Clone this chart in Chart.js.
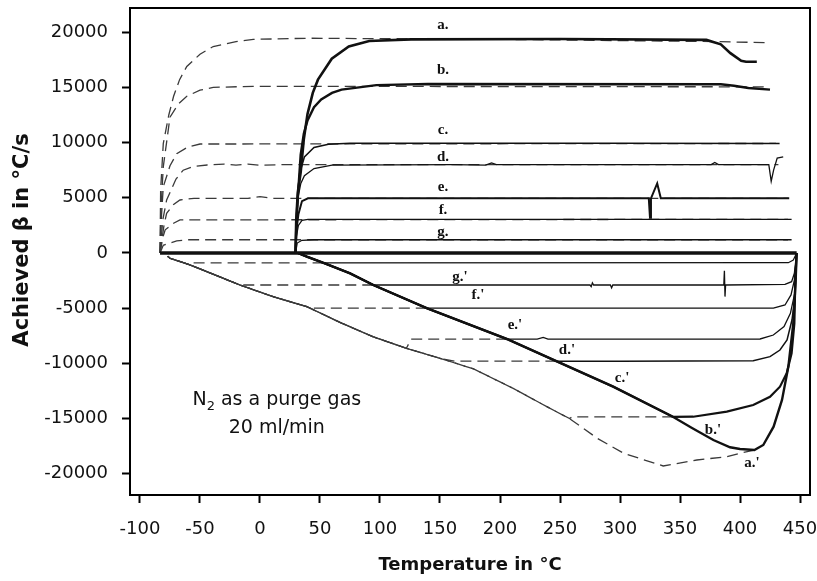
<!DOCTYPE html>
<html>
<head>
<meta charset="utf-8">
<title>Achieved heating and cooling rates</title>
<script src="https://cdn.jsdelivr.net/npm/chart.js@4.4.1/dist/chart.umd.min.js"></script>
<style>
  html, body { margin: 0; padding: 0; background: #fff; }
  #wrap { width: 817px; height: 581px; }
</style>
</head>
<body>
<div id="wrap"><canvas id="betaChart" width="817" height="581"></canvas></div>
<script>
// axis ticks: temperature in °C, rate in °C/s
const tempTicks = [-100, -50, 0, 50, 100, 150, 200, 250, 300, 350, 400, 450];
const rateTicks = [-20000, -15000, -10000, -5000, 0, 5000, 10000, 15000, 20000];

// heating runs from 30 °C, points are [T, beta]
const heatA = [[29.6,0],[30.2,3000],[31.5,5500],[33.9,7300],[36.5,10300],[39.6,12600],[44,14500],[48.3,15700],[59.8,17600],[74,18700],[91,19200],[126,19350],[250,19380],[372,19300],[384,18900],[392,18100],[401,17400],[405,17320],[414,17320]];
const heatB = [[29.6,0],[30.3,2500],[31,4200],[33.9,8900],[36.5,10800],[39.6,12000],[45,13200],[51,13900],[60,14500],[68,14800],[97,15200],[140,15300],[384,15280],[395,15150],[407,14950],[425,14800]];
const heatC = [[29.6,0],[30.5,3500],[31.5,5500],[33,7200],[37,8700],[45,9550],[57,9850],[75,9950],[300,9950],[433,9920]];
const heatD = [[29.6,0],[30.5,3000],[32,5200],[34,6300],[37,7000],[45,7650],[60,7950],[160,8000],[188,7950],[193,8150],[197,8000],[376,8000],[379,8200],[382,8000],[424,8000],[426,6500],[428,7500],[431,8600],[436,8700]];
const heatE = [[29.6,0],[30.3,2000],[32,3500],[35,4700],[40,4950],[324,4950],[325,3200],[325.8,4950],[331,6300],[334,4950],[441,4950]];
const heatF = [[29.6,0],[30.3,1500],[32,2500],[35,2950],[40,3050],[443,3050]];
const heatG = [[29.6,0],[31,900],[35,1150],[45,1200],[443,1200]];

// heating runs from -83 °C (dashed)
const dashHeatA = [[-83.3,0],[-82.8,5700],[-80.6,9900],[-76,12500],[-72,14200],[-67,15700],[-61,16900],[-50,18000],[-39,18700],[-20,19150],[-5.6,19350],[40,19450],[200,19350],[380,19150],[421,19050]];
const dashHeatB = [[-83.3,0],[-82.5,4000],[-80.6,7800],[-75,12300],[-68,13500],[-61,14200],[-50,14750],[-39,15000],[-5.6,15100],[420,15050]];
const dashHeatC = [[-83.3,0],[-82,3500],[-80.6,6000],[-75,7900],[-69.4,9000],[-60,9600],[-50,9870],[430,9920]];
const dashHeatD = [[-83.3,0],[-81,3000],[-77.8,4800],[-70,6700],[-64,7500],[-55,7850],[-44,7970],[-30,8050],[-20,7950],[-10,8050],[0,7950],[20,8000],[432,8000]];
const dashHeatE = [[-83.3,0],[-80,2500],[-77.8,3600],[-72,4400],[-66.7,4800],[-55,4950],[-10,4950],[0,5100],[10,4950],[440,4950]];
const dashHeatF = [[-83.3,0],[-81,1400],[-79,2100],[-72,2700],[-66.7,3000],[440,3050]];
const dashHeatG = [[-83.3,0],[-80.6,700],[-69.4,1100],[-60,1200],[440,1200]];

// isothermal segment at zero rate
const zeroLine = [[-83.3,0],[447.2,0]];

// fastest cooling reachable, solid runs (high T to low T)
const solidLimit = [[412,-17850],[400,-17750],[391.7,-17600],[377.8,-16940],[360,-15850],[344.4,-14850],[294.4,-12110],[247,-9800],[206,-7800],[139,-5000],[94.4,-2900],[75,-1840],[53,-900],[39,-330],[31.5,0]];
// same for the dashed runs
const dashLimit = [[336,-19290],[303,-18140],[281,-16780],[258,-15000],[239,-13920],[211,-12260],[178,-10500],[150,-9540],[122,-8630],[94,-7580],[67,-6300],[39,-4860],[11,-3960],[-16.7,-2900],[-35,-2100],[-58,-1090],[-75,-480],[-77,-300]];

// cooling runs from 447 °C, up to the point where they meet the limit
const coolA = [[447.2,0],[446.4,-2450],[444.4,-6370],[440.3,-10290],[435,-13310],[428,-15730],[419.4,-17390],[412,-17850]];
const coolB = [[447.2,0],[446.1,-2450],[445.3,-6370],[443,-9090],[438.9,-10900],[433.3,-12110],[425,-13020],[411,-13770],[389,-14370],[361,-14830],[344.4,-14850]];
const coolC = [[447.2,0],[445.8,-3950],[443.3,-6070],[439.2,-7880],[433.3,-8790],[425,-9390],[411,-9750],[300,-9800],[247,-9800]];
const coolD = [[447.2,0],[445.6,-3650],[442,-5460],[436.7,-6670],[427.8,-7430],[416.7,-7790],[240,-7800],[236,-7650],[231,-7800],[206,-7800]];
const coolE = [[447.2,0],[445.3,-2450],[442.5,-3800],[437.5,-4710],[427.8,-5000],[139,-5000]];
const coolF = [[447.2,0],[445.3,-1840],[443,-2600],[437.5,-2840],[388,-2900],[387.5,-3950],[387,-1600],[386.5,-2900],[294,-2900],[293,-3150],[292,-2900],[278,-2900],[277,-2700],[276,-3050],[275,-2900],[94.4,-2900]];
const coolG = [[447.2,0],[444.4,-630],[440.3,-880],[53,-900]];

// dashed cooling runs, up to the dashed limit
const dashCoolA = [[412,-17850],[400,-18140],[389,-18450],[364,-18750]];
const dashCoolB = [[344.4,-14850],[260,-14850]];
const dashCoolC = [[247,-9800],[162,-9800]];
const dashCoolD = [[206,-7800],[126,-7800]];
const dashCoolE = [[139,-5000],[45,-5000]];
const dashCoolF = [[94.4,-2900],[-10,-2900]];
const dashCoolG = [[53,-900],[-56,-900]];

// curve names, placed at [T, beta]
const curveTags = [
  ['a.', 152.5, 20650], ['b.', 152.5, 16580], ['c.', 152.5, 11140], ['d.', 152.5, 8700],
  ['e.', 152.5, 5980], ['f.', 152.5, 3900], ['g.', 152.5, 1900],
  ["g.'", 166.7, -2170], ["f.'", 181.7, -3800], ["e.'", 212.5, -6520], ["d.'", 255.8, -8790],
  ["c.'", 301.7, -11320], ["b.'", 377.5, -16030], ["a.'", 410, -19020]
];

// a run follows its limit once it reaches it
function toLimit(run, limit) {
  const tEnd = run[run.length - 1][0];
  return run.concat(limit.filter(p => p[0] < tEnd));
}

const pts = arr => arr.map(p => ({ x: p[0], y: p[1] }));

function solid(arr, width) {
  return { data: pts(arr), borderColor: '#111', borderWidth: width, order: 1 };
}
function dashed(arr) {
  return { data: pts(arr), borderColor: '#3a3a3a', borderWidth: 1.3, borderDash: [11, 6], order: 2 };
}

const datasets = [
  dashed(dashHeatA), dashed(dashHeatB), dashed(dashHeatC), dashed(dashHeatD),
  dashed(dashHeatE), dashed(dashHeatF), dashed(dashHeatG),
  dashed(toLimit(dashCoolA, dashLimit)), dashed(toLimit(dashCoolB, dashLimit)),
  dashed(toLimit(dashCoolC, dashLimit)), dashed(toLimit(dashCoolD, dashLimit)),
  dashed(toLimit(dashCoolE, dashLimit)), dashed(toLimit(dashCoolF, dashLimit)),
  dashed(toLimit(dashCoolG, dashLimit)),
  solid(heatA, 2.6), solid(heatB, 2.4), solid(heatC, 1.5), solid(heatD, 1.3),
  solid(heatE, 2), solid(heatF, 1.3), solid(heatG, 1.3),
  solid(zeroLine, 3.5),
  solid(toLimit(coolA, solidLimit), 2.4), solid(toLimit(coolB, solidLimit), 2.2),
  solid(toLimit(coolC, solidLimit), 1.5), solid(toLimit(coolD, solidLimit), 1.3),
  solid(toLimit(coolE, solidLimit), 1.3), solid(toLimit(coolF, solidLimit), 1.3),
  solid(toLimit(coolG, solidLimit), 1.2)
];

// box around the plot, y title, curve names and the purge gas note
const plotNotes = {
  id: 'plotNotes',
  afterDatasetsDraw(chart) {
    const { ctx, chartArea: a, scales: { x, y } } = chart;
    ctx.save();
    ctx.strokeStyle = '#000';
    ctx.lineWidth = 2;
    ctx.strokeRect(a.left, a.top, a.right - a.left, a.bottom - a.top);

    ctx.fillStyle = '#111';
    ctx.save();
    ctx.translate(23, 240);
    ctx.rotate(-Math.PI / 2);
    ctx.font = 'bold 21px "DejaVu Sans"';
    ctx.textAlign = 'center';
    ctx.textBaseline = 'middle';
    ctx.fillText('Achieved β in °C/s', 0, 0);
    ctx.restore();

    ctx.font = 'bold 15px "Liberation Serif"';
    ctx.textAlign = 'center';
    ctx.textBaseline = 'middle';
    curveTags.forEach(([text, t, b]) => {
      ctx.fillText(text, x.getPixelForValue(t), y.getPixelForValue(b));
    });

    // N2 note, first line has a subscript
    const cx = x.getPixelForValue(14);
    const base = y.getPixelForValue(-13770);
    ctx.textAlign = 'left';
    ctx.textBaseline = 'alphabetic';
    const big = '19px "DejaVu Sans"', small = '13px "DejaVu Sans"';
    ctx.font = big;
    const wN = ctx.measureText('N').width;
    const wRest = ctx.measureText(' as a purge gas').width;
    ctx.font = small;
    const w2 = ctx.measureText('2').width;
    const left = cx - (wN + w2 + wRest) / 2;
    ctx.font = big;
    ctx.fillText('N', left, base);
    ctx.font = small;
    ctx.fillText('2', left + wN, base + 5);
    ctx.font = big;
    ctx.fillText(' as a purge gas', left + wN + w2, base);
    ctx.textAlign = 'center';
    ctx.fillText('20 ml/min', cx, base + 28);
    ctx.restore();
  }
};

new Chart(document.getElementById('betaChart'), {
  type: 'scatter',
  data: { datasets: datasets },
  options: {
    responsive: false,
    animation: false,
    showLine: true,
    elements: { point: { radius: 0 }, line: { tension: 0, borderCapStyle: 'butt' } },
    layout: { padding: { top: 8, right: 7, left: 0, bottom: 0 } },
    plugins: { legend: { display: false }, tooltip: { enabled: false } },
    scales: {
      x: {
        type: 'linear',
        min: -108.33,
        max: 458.33,
        afterBuildTicks: scale => { scale.ticks = tempTicks.map(v => ({ value: v })); },
        afterFit: scale => { scale.height = 86; scale.paddingLeft = 0; scale.paddingRight = 0; },
        ticks: { autoSkip: false, maxRotation: 0, padding: 16, color: '#111',
                 font: { family: '"DejaVu Sans"', size: 18 }, callback: v => String(v) },
        grid: { drawOnChartArea: false, drawTicks: true, tickLength: 8, tickWidth: 2, tickColor: '#000' },
        border: { display: true, color: '#000', width: 2 },
        title: { display: true, text: 'Temperature in °C', color: '#111',
                 font: { family: '"DejaVu Sans"', size: 18, weight: 'bold' }, padding: { top: 0, bottom: 5 } }
      },
      y: {
        type: 'linear',
        min: -21920,
        max: 22190,
        afterBuildTicks: scale => { scale.ticks = rateTicks.map(v => ({ value: v })); },
        afterFit: scale => { scale.width = 130; scale.paddingTop = 0; scale.paddingBottom = 0; },
        ticks: { autoSkip: false, padding: 14, color: '#111',
                 font: { family: '"DejaVu Sans"', size: 18 }, callback: v => String(v) },
        grid: { drawOnChartArea: false, drawTicks: true, tickLength: 8, tickWidth: 2, tickColor: '#000' },
        border: { display: true, color: '#000', width: 2 },
        title: { display: false }
      }
    }
  },
  plugins: [plotNotes]
});
</script>
</body>
</html>
